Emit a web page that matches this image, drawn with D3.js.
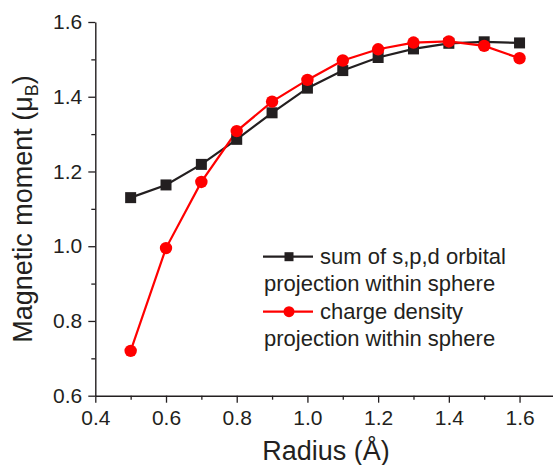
<!DOCTYPE html>
<html>
<head>
<meta charset="utf-8">
<script src="https://cdn.jsdelivr.net/npm/d3@7/dist/d3.min.js"></script>
<style>
  html, body { margin: 0; padding: 0; background: #fff; }
  svg { display: block; font-family: "Liberation Sans", Arial, sans-serif; }
</style>
</head>
<body>
<svg id="chart" width="553" height="465"></svg>
<script>
// Sphere radius (Å)
const radius = [0.5, 0.6, 0.7, 0.8, 0.9, 1.0, 1.1, 1.2, 1.3, 1.4, 1.5, 1.6];
// Magnetic moment (μB) from summed s,p,d orbital projections
const orbitalSum = [1.130, 1.164, 1.219, 1.286, 1.357, 1.423, 1.470, 1.505, 1.528, 1.543, 1.547, 1.544];
// Magnetic moment (μB) from charge density projection
const chargeDensity = [0.720, 0.995, 1.172, 1.308, 1.387, 1.445, 1.497, 1.527, 1.545, 1.548, 1.536, 1.503];

const xMajor = [0.4, 0.6, 0.8, 1.0, 1.2, 1.4, 1.6];
const xMinor = [0.5, 0.7, 0.9, 1.1, 1.3, 1.5];
const yMajor = [0.6, 0.8, 1.0, 1.2, 1.4, 1.6];
const yMinor = [0.7, 0.9, 1.1, 1.3, 1.5];

const legendLabels = [
  ["sum of s,p,d orbital", "projection within sphere"],
  ["charge density", "projection within sphere"]
];

const ink = "#231f20";
const red = "#ff0000";

const svg = d3.select("#chart");

const x = d3.scaleLinear().domain([0.4, 1.7]).range([95.3, 554.9]);
const y = d3.scaleLinear().domain([0.6, 1.6]).range([395.7, 22]);

// x axis: major ticks with labels, minor ticks without
const xAxisG = svg.append("g").attr("transform", `translate(0,${y(0.6)})`);
xAxisG.call(d3.axisBottom(x).tickValues(xMajor).tickSize(7).tickSizeOuter(0).tickPadding(7).tickFormat(d3.format(".1f")));
xAxisG.append("g").call(d3.axisBottom(x).tickValues(xMinor).tickSize(4).tickSizeOuter(0).tickFormat(""))
  .select(".domain").remove();

const yAxisG = svg.append("g").attr("transform", `translate(${x(0.4)},0)`);
yAxisG.call(d3.axisLeft(y).tickValues(yMajor).tickSize(7).tickSizeOuter(0).tickPadding(6).tickFormat(d3.format(".1f")));
yAxisG.append("g").call(d3.axisLeft(y).tickValues(yMinor).tickSize(4).tickSizeOuter(0).tickFormat(""))
  .select(".domain").remove();

svg.selectAll(".domain").attr("stroke", ink).attr("stroke-width", 1.4);
svg.selectAll(".tick line").attr("stroke", ink).attr("stroke-width", 1.3);
svg.selectAll(".tick text")
  .attr("fill", ink)
  .style("font-size", "21px")
  .style("font-family", "'Liberation Sans', Arial, sans-serif");

// axis titles
svg.append("text")
  .attr("x", 326).attr("y", 460)
  .attr("text-anchor", "middle")
  .attr("fill", ink)
  .style("font-size", "27px")
  .text("Radius (Å)");

const yTitle = svg.append("text")
  .attr("transform", `translate(32,${209}) rotate(-90)`)
  .attr("text-anchor", "middle")
  .attr("fill", ink)
  .style("font-size", "27px");
yTitle.append("tspan").text("Magnetic moment (μ");
yTitle.append("tspan").attr("dy", 6).style("font-size", "18px").text("B");
yTitle.append("tspan").attr("dy", -6).text(")");

// series lines and markers
const line = d3.line().x((d, i) => x(radius[i])).y(d => y(d));

svg.append("path").datum(orbitalSum)
  .attr("d", line).attr("fill", "none")
  .attr("stroke", ink).attr("stroke-width", 2.2);

svg.append("path").datum(chargeDensity)
  .attr("d", line).attr("fill", "none")
  .attr("stroke", red).attr("stroke-width", 2.2);

const sq = 11;
svg.append("g").selectAll("rect").data(orbitalSum).join("rect")
  .attr("x", (d, i) => x(radius[i]) - sq / 2)
  .attr("y", d => y(d) - sq / 2)
  .attr("width", sq).attr("height", sq)
  .attr("fill", ink);

svg.append("g").selectAll("circle").data(chargeDensity).join("circle")
  .attr("cx", (d, i) => x(radius[i]))
  .attr("cy", d => y(d))
  .attr("r", 6.2)
  .attr("fill", red);

// legend
const legend = svg.append("g");
const legendRows = [
  { color: ink, shape: "square", y: 256.7 },
  { color: red, shape: "circle", y: 311.7 }
];
legendRows.forEach((row, k) => {
  legend.append("line")
    .attr("x1", 263).attr("x2", 313)
    .attr("y1", row.y).attr("y2", row.y)
    .attr("stroke", row.color).attr("stroke-width", 2.2);
  if (row.shape === "square") {
    legend.append("rect")
      .attr("x", 289 - 4.5).attr("y", row.y - 4.5)
      .attr("width", 9).attr("height", 9)
      .attr("fill", row.color);
  } else {
    legend.append("circle")
      .attr("cx", 289).attr("cy", row.y).attr("r", 5.5)
      .attr("fill", row.color);
  }
  legend.append("text")
    .attr("x", 320).attr("y", row.y + 7.7)
    .attr("fill", ink).style("font-size", "22px")
    .text(legendLabels[k][0]);
  legend.append("text")
    .attr("x", 264).attr("y", row.y + 34.5)
    .attr("fill", ink).style("font-size", "22px")
    .text(legendLabels[k][1]);
});
</script>
</body>
</html>
